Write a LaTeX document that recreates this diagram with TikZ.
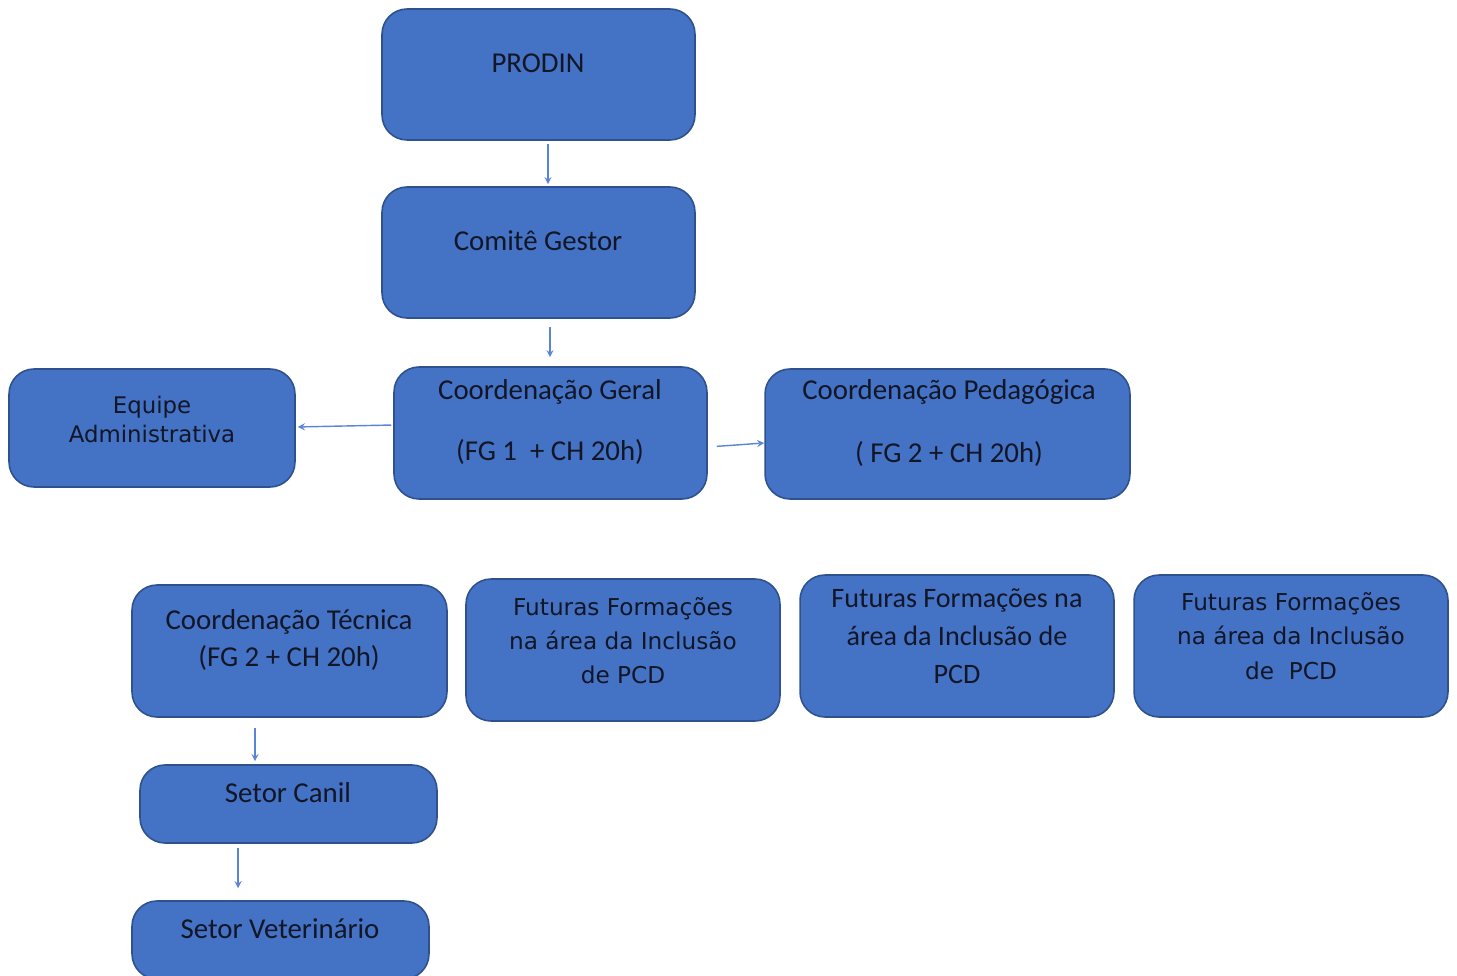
\documentclass[tikz,border=0pt]{standalone}
\usepackage{fontspec}
\setmainfont{Carlito}
\newfontfamily\wideface{DejaVu Sans}
\usepackage{xcolor}
\usepackage{tikz}
\usetikzlibrary{arrows.meta, positioning}
\definecolor{boxblue}{RGB}{68,114,196}
\definecolor{boxedge}{RGB}{47,82,143}
\definecolor{linkblue}{RGB}{90,132,212}
\definecolor{inkdark}{RGB}{18,22,38}
\tikzset{
    orgbox/.style={rectangle, rounded corners=0.5cm, draw=boxedge, line width=0.9pt, fill=boxblue, inner sep=0pt},
    lbl/.style={text=inkdark, align=center, inner sep=0pt},
    calfont/.style={font=\fontsize{16.4}{20}\selectfont},
    widefont/.style={font=\wideface\fontsize{13.2}{19.3}\selectfont},
    flow/.style={->, >=stealth, draw=linkblue, line width=0.8pt}
}

\begin{document}
\begin{tikzpicture} [
    x=0.02cm, y=-0.02cm,
    wide/.style={orgbox, minimum width=6.28cm, minimum height=2.84cm}
]
    \useasboundingbox (0,0) rectangle (1457,976);

    % Top of the chart
    \node[orgbox, minimum width=6.26cm, minimum height=2.62cm] (prodin) at (538.5,74.5) {};
    \node[lbl, calfont] (prodin_lbl) at (538,63) {PRODIN};

    \node[orgbox, minimum width=6.26cm, minimum height=2.62cm] (comite) at (538.5,252.5) {};
    \node[lbl, calfont] (comite_lbl) at (538,241) {Comitê Gestor};

    % Coordination row
    \node[orgbox, minimum width=6.26cm, minimum height=2.64cm] (geral) at (550.5,433) {};
    \node[lbl, calfont] (geral_lbl) at (550,422) {Coordenação Geral\\[15.2pt] (FG 1 \ + CH 20h)};

    \node[orgbox, minimum width=5.72cm, minimum height=2.36cm] (equipe) at (152,428) {};
    \node[lbl, widefont, font=\wideface\fontsize{13}{16.4}\selectfont] (equipe_lbl) at (152,419.5) {Equipe\\ Administrativa};

    \node[orgbox, minimum width=7.3cm, minimum height=2.6cm] (pedag) at (947.5,434) {};
    \node[lbl, calfont] (pedag_lbl) at (949,423) {Coordenação Pedagógica\\[16.3pt] ( FG 2 + CH 20h)};

    % Lower row
    \node[orgbox, minimum width=6.3cm, minimum height=2.64cm] (tecnica) at (289.5,651) {};
    \node[lbl, font=\fontsize{16.4}{21.5}\selectfont] (tecnica_lbl) at (289,640) {Coordenação Técnica\\ (FG 2 + CH 20h)};

    \node[wide] (futuras_a) at (623,650) {};
    \node[lbl, widefont] (futuras_a_lbl) at (623,641) {Futuras Formações\\ na área da Inclusão\\ de PCD};

    \node[wide] (futuras_b) at (957,646) {};
    \node[lbl, font=\fontsize{16}{21.5}\selectfont] (futuras_b_lbl) at (957,636) {Futuras Formações na\\ área da Inclusão de\\ PCD};

    \node[wide] (futuras_c) at (1291,646) {};
    \node[lbl, widefont, font=\wideface\fontsize{13.2}{19.8}\selectfont] (futuras_c_lbl) at (1291,636) {Futuras Formações\\ na área da Inclusão\\ de \ PCD};

    % Sectors
    \node[orgbox, minimum width=5.94cm, minimum height=1.56cm] (canil) at (288.5,804) {};
    \node[lbl, calfont] (canil_lbl) at (288,793) {Setor Canil};

    \node[orgbox, minimum width=5.94cm, minimum height=1.56cm] (veter) at (280.5,940) {};
    \node[lbl, calfont] (veter_lbl) at (280,929) {Setor Veterinário};

    % Flows
    \draw[flow, shorten <=0.06cm, shorten >=0.04cm] ([xshift=0.19cm]prodin.south) -- ([xshift=0.19cm]comite.north);
    \draw[flow, shorten <=0.16cm, shorten >=0.18cm] ([xshift=0.23cm]comite.south) -- ([xshift=0.23cm]comite.south |- geral.north);
    \draw[flow, shorten <=0.04cm, shorten >=0.04cm] ([yshift=0.16cm]geral.west) -- ([yshift=0.02cm]equipe.east);
    \draw[flow, shorten <=0.18cm] ([yshift=-0.28cm]geral.east) -- ([yshift=-0.18cm]pedag.west);
    \draw[flow, shorten <=0.2cm, shorten >=0.06cm] ([xshift=-0.69cm]tecnica.south) -- ([xshift=-0.69cm]tecnica.south |- canil.north);
    \draw[flow, shorten <=0.08cm, shorten >=0.24cm] ([xshift=-1.01cm]canil.south) -- ([xshift=-1.01cm]canil.south |- veter.north);
\end{tikzpicture}
\end{document}
